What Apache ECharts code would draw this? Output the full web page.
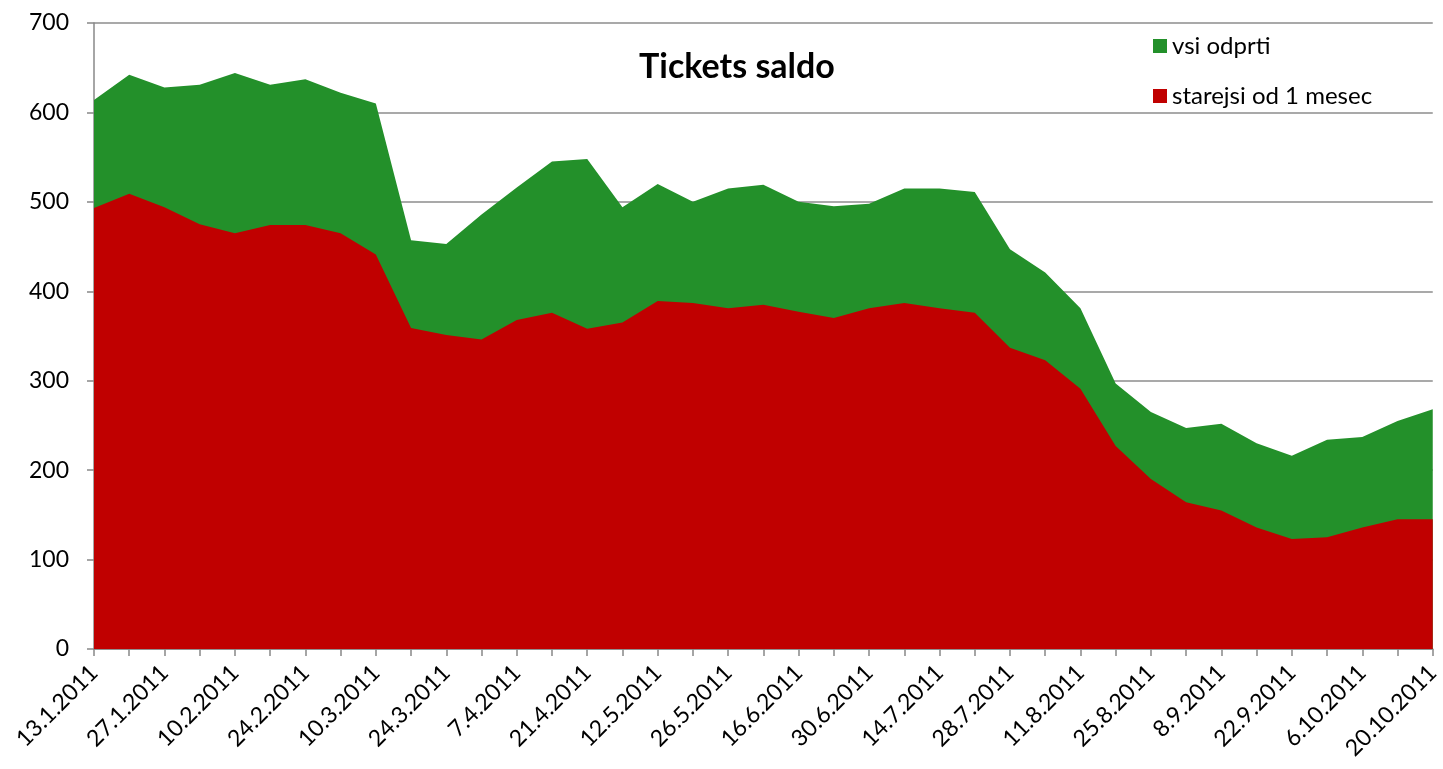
<!DOCTYPE html>
<html>
<head>
<meta charset="utf-8">
<script src="https://cdn.jsdelivr.net/npm/echarts@6/dist/echarts.min.js"></script>
<style>
html, body { margin: 0; padding: 0; background: #fff; }
#main { width: 1443px; height: 769px; }
</style>
</head>
<body>
<div id="main"></div>
<script>
'use strict';
// datumi (tedensko / nepravilno)
var dates = ['13.1.2011','20.1.2011','27.1.2011','3.2.2011','10.2.2011','17.2.2011','24.2.2011','3.3.2011',
	'10.3.2011','17.3.2011','24.3.2011','31.3.2011','7.4.2011','14.4.2011','21.4.2011','5.5.2011',
	'12.5.2011','19.5.2011','26.5.2011','9.6.2011','16.6.2011','23.6.2011','30.6.2011','7.7.2011',
	'14.7.2011','21.7.2011','28.7.2011','4.8.2011','11.8.2011','18.8.2011','25.8.2011','1.9.2011',
	'8.9.2011','15.9.2011','22.9.2011','29.9.2011','6.10.2011','13.10.2011','20.10.2011'];
var vsiOdprti = [614,642,628,631,644,631,637,622,610,457,453,486,516,545,548,494,520,500,515,519,
	500,495,498,515,515,511,447,421,381,297,265,247,252,230,216,234,237,255,268];
var starejsi = [493,509,494,475,465,474,474,465,441,359,351,346,368,376,358,365,389,387,381,385,
	377,370,381,387,381,376,337,323,291,227,190,164,155,136,123,125,136,145,145];
var yTicks = [0,100,200,300,400,500,600,700];

var font = 'Lato, "Open Sans", sans-serif';
var chart = echarts.init(document.getElementById('main'));
var option = {
	animation: false,
	backgroundColor: '#fff',
	title: {
		text: 'Tickets saldo',
		left: 634,
		top: 45,
		textStyle: { fontFamily: font, fontSize: 34, fontWeight: 'bold', color: '#000' }
	},
	legend: {
		orient: 'vertical',
		left: 1148,
		top: 29,
		itemGap: 26,
		itemWidth: 14,
		itemHeight: 14,
		icon: 'rect',
		data: ['vsi odprti', 'starejsi od 1 mesec'],
		textStyle: { fontFamily: font, fontSize: 24, color: '#000' }
	},
	grid: { left: 94, right: 7, top: 23, bottom: 120, containLabel: false },
	xAxis: {
		type: 'category',
		boundaryGap: false,
		data: dates,
		axisLine: { lineStyle: { color: '#888', width: 1.5 } },
		axisTick: { show: true, interval: 0, length: 7, lineStyle: { color: '#888', width: 1.5 } },
		axisLabel: { interval: 1, rotate: 45, fontFamily: font, fontSize: 23, color: '#000', margin: 20 },
		splitLine: { show: false }
	},
	yAxis: {
		type: 'value',
		min: yTicks[0],
		max: yTicks[yTicks.length - 1],
		interval: 100,
		axisLine: { show: true, lineStyle: { color: '#888', width: 1.5 } },
		axisTick: { show: true, inside: false, length: 7, lineStyle: { color: '#888', width: 1.5 } },
		axisLabel: { fontFamily: font, fontSize: 23, color: '#000', margin: 25 },
		splitLine: { show: true, lineStyle: { color: '#8c8c8c', width: 1.5 } }
	},
	series: [{
		name: 'vsi odprti',
		type: 'line',
		data: vsiOdprti,
		symbol: 'none',
		lineStyle: { width: 0 },
		itemStyle: { color: '#23902a' },
		areaStyle: { color: '#23902a', opacity: 1 }
	}, {
		name: 'starejsi od 1 mesec',
		type: 'line',
		data: starejsi,
		symbol: 'none',
		lineStyle: { width: 0 },
		itemStyle: { color: '#c00000' },
		areaStyle: { color: '#c00000', opacity: 1 }
	}]
};
chart.setOption(option);
</script>
</body>
</html>
